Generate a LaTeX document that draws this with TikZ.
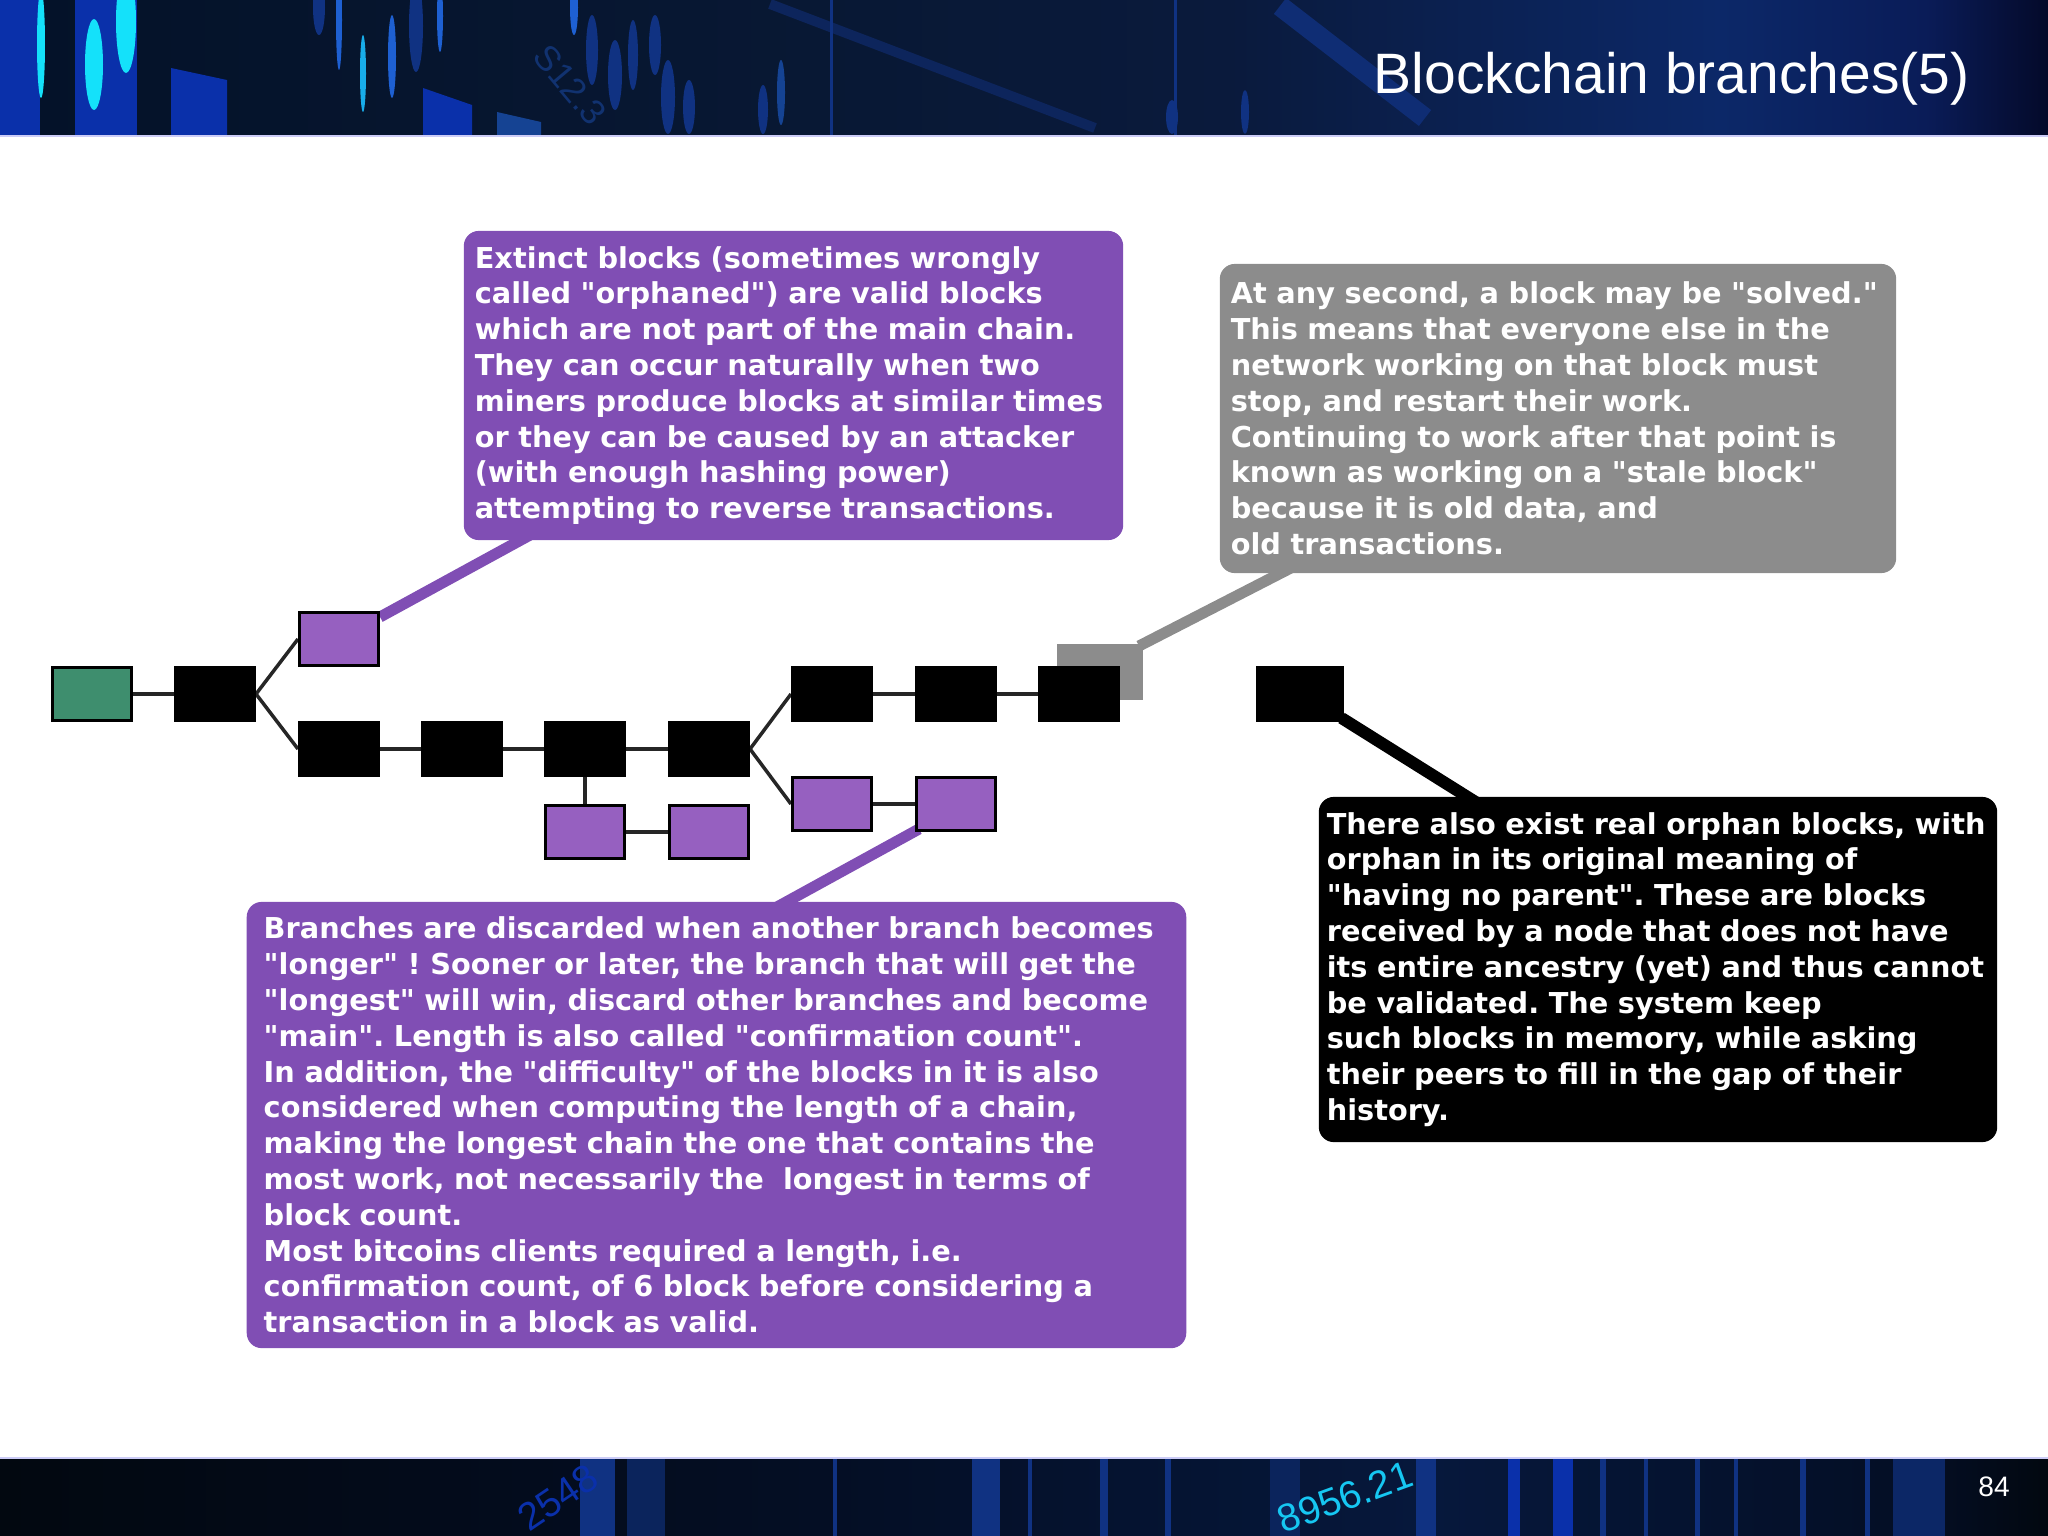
\documentclass[tikz,border=0pt]{standalone}
\usepackage{fontspec}
\setmainfont{Liberation Sans}
\newfontfamily\notefont{DejaVu Sans}
\usetikzlibrary{backgrounds, calc}
\frenchspacing

% Define colors
\definecolor{topa}{RGB}{4, 18, 40}
\definecolor{topb}{RGB}{8, 24, 52}
\definecolor{topc}{RGB}{10, 26, 60}
\definecolor{topd}{RGB}{12, 40, 104}
\definecolor{tope}{RGB}{10, 28, 88}
\definecolor{topf}{RGB}{4, 10, 42}
\definecolor{foota}{RGB}{2, 8, 16}
\definecolor{footb}{RGB}{4, 14, 36}
\definecolor{footc}{RGB}{6, 24, 60}
\definecolor{notepurple}{RGB}{128, 78, 180}
\definecolor{notegrey}{RGB}{140, 140, 140}
\definecolor{blockpurple}{RGB}{150, 96, 192}
\definecolor{blockgreen}{RGB}{62, 142, 110}
\definecolor{streakcyan}{RGB}{20, 225, 250}
\definecolor{streakblue}{RGB}{10, 48, 170}
\definecolor{streakmid}{RGB}{30, 96, 210}
\definecolor{streakdim}{RGB}{16, 50, 130}

\pgfdeclarehorizontalshading{topband}{100bp}{color(0bp)=(topa); color(25bp)=(topa); color(45bp)=(topb); color(55bp)=(topc); color(67bp)=(topd); color(72bp)=(tope); color(75bp)=(topf); color(100bp)=(topf)}
\pgfdeclarehorizontalshading{footband}{100bp}{color(0bp)=(foota); color(25bp)=(foota); color(45bp)=(footb); color(60bp)=(footc); color(72bp)=(footb); color(75bp)=(foota); color(100bp)=(foota)}

\tikzset{
    block/.style={rectangle, draw=black, line width=0.03cm, inner sep=0pt, minimum width=0.79cm, minimum height=0.53cm},
    mainblock/.style={block, fill=black},
    sideblock/.style={block, fill=blockpurple},
    link/.style={draw=black!85, line width=0.035cm},
    tail/.style={line width=0.11cm},
    notebox/.style={rectangle, rounded corners=0.15cm, align=left, inner ysep=0pt, text=white, font=\notefont\bfseries\fontsize{8.18}{10.18}\selectfont}
}

\begin{document}
\begin{tikzpicture}[x=0.01cm, y=-0.01cm]
\useasboundingbox (0,0) rectangle (2048,1536);

% Top band
\shade[shading=topband] (0,0) rectangle (2048,136);
\fill[streakblue] (0,0) rectangle (40,136);
\fill[streakblue] (75,0) rectangle (137,136);
\fill[streakblue] (171,68) -- (227,80) -- (227,136) -- (171,136) -- cycle;
\fill[streakblue] (423,88) -- (472,105) -- (472,136) -- (423,136) -- cycle;
\fill[streakmid!70!black] (497,112) -- (541,122) -- (541,136) -- (497,136) -- cycle;
\foreach \x/\ya/\yb/\w/\col in {41/-10/98/8/streakcyan, 94/19/110/18/streakcyan, 126/-30/73/20/streakcyan,
    319/-20/35/12/streakdim, 339/-30/70/6/streakmid, 363/35/112/6/streakcyan!60!streakmid, 392/15/98/8/streakmid,
    416/-20/72/14/streakdim, 440/-20/52/6/streakmid, 574/-20/35/8/streakmid, 592/15/85/12/streakdim,
    615/40/110/14/streakdim, 633/20/90/10/streakdim, 655/15/75/12/streakdim, 668/60/134/14/streakdim,
    689/80/134/12/streakdim, 763/85/134/10/streakdim, 781/60/125/8/streakmid!70!black,
    1172/100/134/12/streakdim, 1245/90/134/8/streakdim} {
    \fill[\col] (\x,{(\ya+\yb)/2}) ellipse [x radius=\w/2, y radius={(\yb-\ya)/2}];
}
\draw[streakdim!45!topc, line width=0.1cm] (770,4) -- (1095,128);
\draw[streakdim!80!topc, line width=0.2cm] (1280,6) -- (1425,118);
\draw[streakdim, line width=0.03cm] (831,0) -- (831,136);
\draw[streakdim, line width=0.03cm] (1175,0) -- (1175,136);
\node[rotate=-50, text=streakmid!35!topc, font=\fontsize{10}{10}\selectfont] (pricetop) at (570,85) {S12.3};
\draw[black!15!blue!20!white, line width=0.02cm] (0,136) -- (2048,136);
\node[anchor=base east, text=white, font=\fontsize{16.2}{16.2}\selectfont, inner sep=0pt] (title) at (1970,93) {Blockchain branches(5)};

% Bottom band
\shade[shading=footband] (0,1458) rectangle (2048,1536);
\foreach \xa/\xb/\col in {580/615/streakdim, 627/665/streakdim!60!footb, 833/837/streakdim, 972/1000/streakdim,
    1028/1032/streakdim, 1100/1108/streakdim, 1165/1171/streakdim, 1270/1300/streakdim!60!footb, 1416/1436/streakdim,
    1508/1520/streakblue, 1553/1573/streakblue, 1600/1606/streakdim, 1644/1648/streakdim, 1695/1700/streakdim, 1734/1738/streakdim,
    1800/1806/streakdim, 1865/1870/streakdim, 1893/1945/streakdim!70!footb} {
    \fill[\col] (\xa,1458) rectangle (\xb,1536);
}
\node[rotate=34, text=streakblue, font=\fontsize{11}{11}\selectfont] (pricelow) at (558,1497) {2548};
\node[rotate=20, text=streakcyan!80!streakmid, font=\fontsize{11}{11}\selectfont] (pricehigh) at (1345,1497) {8956.21};
\draw[black!15!blue!20!white, line width=0.02cm] (0,1458) -- (2048,1458);
\node[text=white, font=\fontsize{8}{8}\selectfont, inner sep=0pt] (pageno) at (1994,1487) {84};

% Grey block sits behind the last main block
\node[block, fill=notegrey, draw=notegrey, minimum width=0.83cm] (stale) at (1100,672) {};

% Blocks
\node[block, fill=blockgreen] (genesis) at (92,694) {};
\foreach \name/\x/\y in {m1/215/694, m2/339/749, m3/462/749, m4/585/749, m5/709/749, m6/832/694, m7/956/694, m8/1079/694} {
    \node[mainblock] (\name) at (\x,\y) {};
}
\node[mainblock, minimum width=0.84cm] (orphan) at (1300,694) {};
\foreach \name/\x/\y in {s1/339/639, s2/585/832, s3/709/832, s4/832/804, s5/956/804} {
    \node[sideblock] (\name) at (\x,\y) {};
}

% Notes
\node[notebox, fill=notepurple, inner xsep=0.11cm, text width=6.37cm, minimum height=3.09cm] (extinct) at (793.5,385.5) {Extinct blocks (sometimes wrongly\\
called "orphaned") are valid blocks\\
which are not part of the main chain.\\
They can occur naturally when two\\
miners produce blocks at similar times\\
or they can be caused by an attacker\\
(with enough hashing power)\\
attempting to reverse transactions.};

\node[notebox, fill=notegrey, inner xsep=0.11cm, text width=6.54cm, minimum height=3.09cm] (solved) at (1558,418.5) {At any second, a block may be "solved."\\
This means that everyone else in the\\
network working on that block must\\
stop, and restart their work.\\
Continuing to work after that point is\\
known as working on a "stale block"\\
because it is old data, and\\
old transactions.};

\node[notebox, fill=black, inner xsep=0.08cm, text width=6.62cm, minimum height=3.45cm] (real) at (1658,969.5) {There also exist real orphan blocks, with\\
orphan in its original meaning of\\
"having no parent". These are blocks\\
received by a node that does not have\\
its entire ancestry (yet) and thus cannot\\
be validated. The system keep\\
such blocks in memory, while asking\\
their peers to fill in the gap of their\\
history.};

\node[notebox, fill=notepurple, inner xsep=0.17cm, text width=9.05cm, minimum height=4.46cm] (discard) at (716.5,1125) {Branches are discarded when another branch becomes\\
"longer" ! Sooner or later, the branch that will get the\\
"longest" will win, discard other branches and become\\
"main". Length is also called "confirmation count".\\
In addition, the "difficulty" of the blocks in it is also\\
considered when computing the length of a chain,\\
making the longest chain the one that contains the\\
most work, not necessarily the\ \ longest in terms of\\
block count.\\
Most bitcoins clients required a length, i.e.\\
confirmation count, of 6 block before considering a\\
transaction in a block as valid.};

% Links and tails
\begin{scope}[on background layer]
\draw[link] (genesis.east) -- (m1.west);
\draw[link] (m1.east) -- (s1.west);
\draw[link] (m1.east) -- (m2.west);
\draw[link] (m2.east) -- (m3.west);
\draw[link] (m3.east) -- (m4.west);
\draw[link] (m4.east) -- (m5.west);
\draw[link] (m5.east) -- (m6.west);
\draw[link] (m6.east) -- (m7.west);
\draw[link] (m7.east) -- (m8.west);
\draw[link] (m5.east) -- (s4.west);
\draw[link] (s4.east) -- (s5.west);
\draw[link] (m4.south) -- (s2.north);
\draw[link] (s2.east) -- (s3.west);
\draw[tail, draw=notepurple] ($(s1.north east)+(0,6)$) -- ($(extinct.south west)+(71,-8)$);
\draw[tail, draw=notegrey] ($(stale.north east)+(-4,2)$) -- ($(solved.south west)+(76,-8)$);
\draw[tail, draw=black, line width=0.12cm] ($(orphan.south east)+(-2,-4)$) -- ($(real.north west)+(161,8)$);
\draw[tail, draw=notepurple] ($(s5.south west)+(4,-3)$) -- ($(discard.north west)+(527,8)$);
\end{scope}
\end{tikzpicture}
\end{document}
